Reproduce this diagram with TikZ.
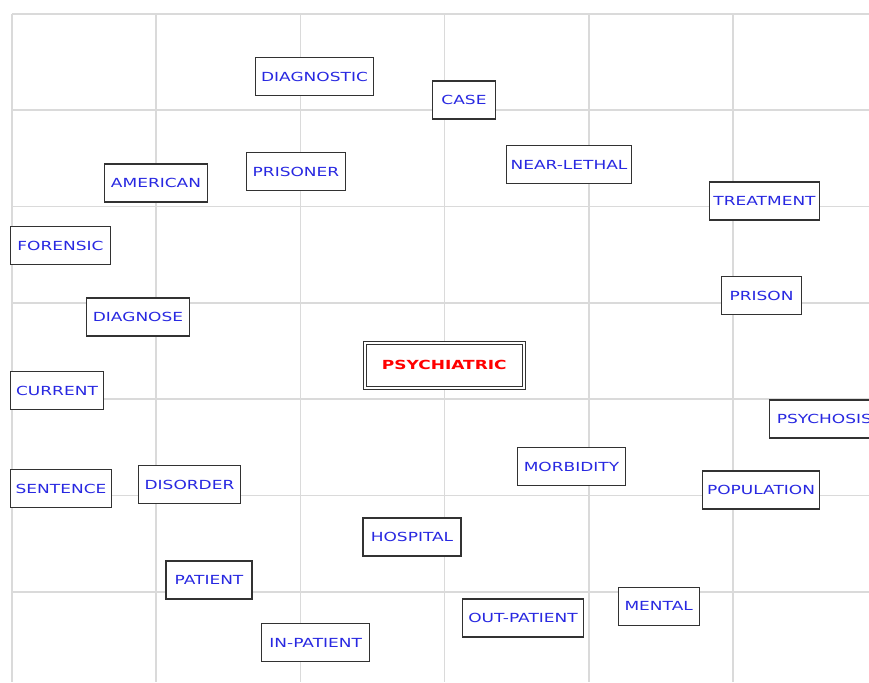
\documentclass[tikz,border=0pt]{standalone}
\usepackage{fontspec}
\setmainfont{DejaVu Sans}[FakeStretch=1.36]
\usepackage{xcolor}
\definecolor{gridgray}{RGB}{218,218,218}
\definecolor{wordblue}{RGB}{40,40,225}
\definecolor{boxgray}{RGB}{50,50,50}

\begin{document}
\begin{tikzpicture}[x=1pt,y=-1pt,
    gridline/.style={draw=gridgray,line width=1.6pt},
    word/.style={rectangle,draw=boxgray,line width=1.3pt,fill=white,text=wordblue,
      inner sep=0pt,minimum height=38pt,font=\fontsize{12.5}{14}\selectfont},
    hub/.style={rectangle,draw=boxgray,line width=1pt,double,double distance=2pt,fill=white,
      text=red,inner sep=0pt,minimum width=159pt,minimum height=45pt,
      font=\fontsize{12.5}{14}\selectfont\bfseries}]
    \useasboundingbox (0,0) rectangle (869,682);
    \clip (0,0) rectangle (869,682);
    %
    \foreach \i in {0,...,6}
      \draw[gridline] ({12+144.2*\i},14) -- ({12+144.2*\i},682);
    \foreach \j in {0,...,6}
      \draw[gridline] (12,{14+96.3*\j}) -- (869,{14+96.3*\j});
    %
    \node[hub] (psychiatric) at (444.3,365) {PSYCHIATRIC};
    %
    \node[word,minimum width=118] (diagnostic) at (314.5,76.5) {DIAGNOSTIC};
    \node[word,minimum width=63] (case) at (464,100) {CASE};
    \node[word,minimum width=99] (prisoner) at (296,171.5) {PRISONER};
    \node[word,minimum width=125] (nearlethal) at (569,164.5) {NEAR-LETHAL};
    \node[word,minimum width=103] (american) at (156,183) {AMERICAN};
    \node[word,minimum width=110] (treatment) at (764.5,201) {TREATMENT};
    \node[word,minimum width=100] (forensic) at (60.5,245.5) {FORENSIC};
    \node[word,minimum width=80] (prison) at (761.5,295.5) {PRISON};
    \node[word,minimum width=103] (diagnose) at (138,317) {DIAGNOSE};
    \node[word,minimum width=93] (current) at (57,390.5) {CURRENT};
    \node[word,minimum width=110,anchor=west] (psychosis) at (768.7,419) {PSYCHOSIS};
    \node[word,minimum width=108] (morbidity) at (571.5,466.5) {MORBIDITY};
    \node[word,minimum width=117] (population) at (761,490) {POPULATION};
    \node[word,minimum width=101] (sentence) at (61,488.5) {SENTENCE};
    \node[word,minimum width=102] (disorder) at (189.5,484.5) {DISORDER};
    \node[word,minimum width=98] (hospital) at (412,537) {HOSPITAL};
    \node[word,minimum width=86] (patient) at (209,580) {PATIENT};
    \node[word,minimum width=108] (inpatient) at (315.7,642.5) {IN-PATIENT};
    \node[word,minimum width=121] (outpatient) at (523,618) {OUT-PATIENT};
    \node[word,minimum width=81] (mental) at (658.7,606.3) {MENTAL};
    %
\end{tikzpicture}
\end{document}
